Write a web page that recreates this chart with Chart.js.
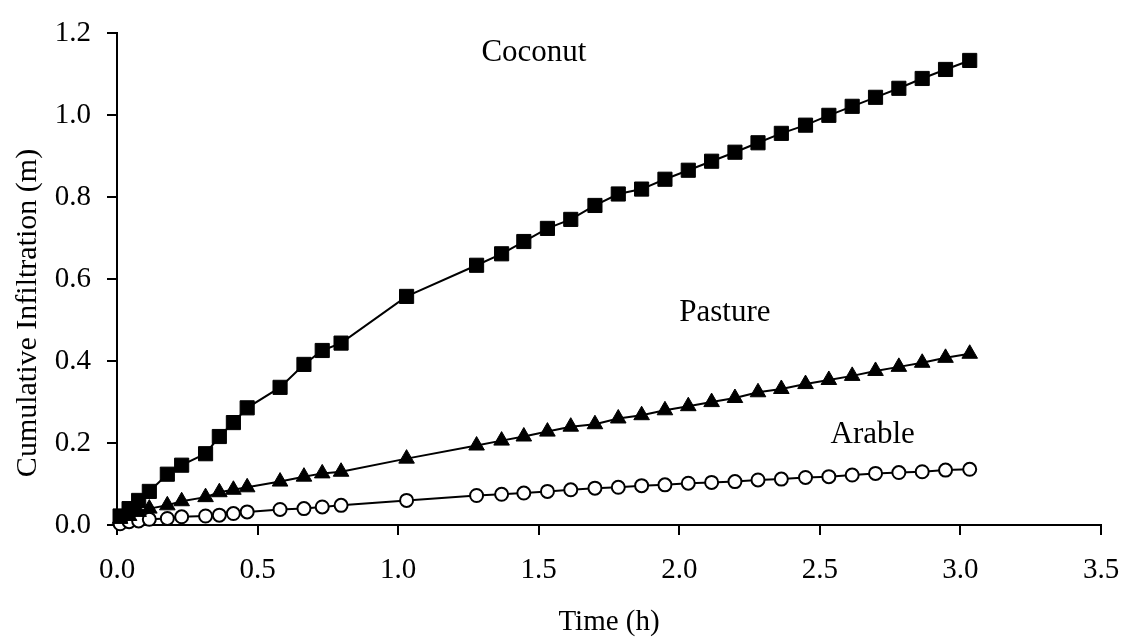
<!DOCTYPE html>
<html>
<head>
<meta charset="utf-8">
<script src="https://cdn.jsdelivr.net/npm/chart.js@4"></script>
<style>
  html, body { margin: 0; padding: 0; background: #fff; }
  #wrap { width: 1123px; height: 638px; }
</style>
</head>
<body>
<div id="wrap"><canvas id="chart"></canvas></div>
<script>
// time (h)
const times = [0.011, 0.043, 0.077, 0.115, 0.179, 0.230, 0.315, 0.364, 0.414, 0.463,
    0.580, 0.665, 0.730, 0.797, 1.030, 1.279, 1.368, 1.447, 1.531, 1.614, 1.700, 1.783,
    1.866, 1.949, 2.032, 2.115, 2.198, 2.280, 2.363, 2.449, 2.532, 2.615, 2.698, 2.781,
    2.864, 2.947, 3.033];

// cumulative infiltration (m)
const coconut = [0.022, 0.040, 0.060, 0.082, 0.124, 0.146, 0.174, 0.216, 0.250, 0.286,
    0.336, 0.392, 0.426, 0.444, 0.558, 0.634, 0.662, 0.692, 0.724, 0.746, 0.780, 0.808,
    0.820, 0.844, 0.866, 0.888, 0.910, 0.933, 0.956, 0.976, 1.000, 1.022, 1.044, 1.066,
    1.090, 1.112, 1.134];
const pasture = [0.015, 0.022, 0.032, 0.040, 0.048, 0.058, 0.068, 0.080, 0.086, 0.092,
    0.106, 0.118, 0.126, 0.130, 0.162, 0.194, 0.206, 0.216, 0.228, 0.240, 0.246, 0.260,
    0.268, 0.280, 0.290, 0.300, 0.310, 0.324, 0.332, 0.344, 0.354, 0.364, 0.376, 0.386,
    0.396, 0.408, 0.418];
const arable = [0.003, 0.008, 0.010, 0.014, 0.016, 0.020, 0.022, 0.024, 0.028, 0.032,
    0.038, 0.040, 0.044, 0.048, 0.060, 0.072, 0.075, 0.078, 0.082, 0.086, 0.090, 0.092,
    0.096, 0.098, 0.102, 0.104, 0.106, 0.110, 0.112, 0.116, 0.118, 0.122, 0.126, 0.128,
    0.130, 0.134, 0.136];

// series name labels, placed in data units
const labelNames = ["Coconut", "Pasture", "Arable"];
const labelX = [1.483, 2.162, 2.688];
const labelY = [1.132, 0.497, 0.200];

const xTicks = [0, 0.5, 1.0, 1.5, 2.0, 2.5, 3.0, 3.5];
const yTicks = [0, 0.2, 0.4, 0.6, 0.8, 1.0, 1.2];
const yTitle = "Cumulative Infiltration (m)";

const FONT = "'Liberation Serif', 'Times New Roman', serif";

const toPoints = (vals) => times.map((t, i) => ({ x: t, y: vals[i] }));

// series names inside the plot + the y axis title (sits lower than the axis centre)
const textLayer = {
    id: "textLayer",
    afterDatasetsDraw(chart) {
        const { ctx, scales } = chart;
        ctx.save();
        ctx.fillStyle = "#000";
        ctx.font = "31px " + FONT;
        ctx.textAlign = "center";
        ctx.textBaseline = "alphabetic";
        labelNames.forEach((name, i) => {
            ctx.fillText(name, scales.x.getPixelForValue(labelX[i]), scales.y.getPixelForValue(labelY[i]));
        });
        ctx.translate(36, 313);
        ctx.rotate(-Math.PI / 2);
        ctx.font = "30px " + FONT;
        ctx.fillText(yTitle, 0, 0);
        ctx.restore();
    }
};

const ctx = document.getElementById("chart");
new Chart(ctx, {
    type: "scatter",
    data: {
        datasets: [
            {
                label: "Coconut",
                data: toPoints(coconut),
                showLine: true,
                borderColor: "#000",
                borderWidth: 2,
                pointStyle: "rect",
                pointRadius: 10,
                pointBackgroundColor: "#000",
                pointBorderColor: "#000",
                pointBorderWidth: 1,
                clip: false,
                order: 1
            },
            {
                label: "Pasture",
                data: toPoints(pasture),
                showLine: true,
                borderColor: "#000",
                borderWidth: 2,
                pointStyle: "triangle",
                pointRadius: 9,
                pointBackgroundColor: "#000",
                pointBorderColor: "#000",
                pointBorderWidth: 1,
                clip: false,
                order: 2
            },
            {
                label: "Arable",
                data: toPoints(arable),
                showLine: true,
                borderColor: "#000",
                borderWidth: 2,
                pointStyle: "circle",
                pointRadius: 6.5,
                pointBackgroundColor: "#fff",
                pointBorderColor: "#000",
                pointBorderWidth: 2,
                clip: false,
                order: 3
            }
        ]
    },
    options: {
        responsive: true,
        maintainAspectRatio: false,
        animation: false,
        layout: { padding: { top: 25, right: 0, left: 0, bottom: 0 } },
        plugins: {
            legend: { display: false },
            tooltip: { enabled: false }
        },
        scales: {
            x: {
                type: "linear",
                min: 0,
                max: 3.5,
                afterFit: (scale) => {
                    scale.height = 113;
                    scale.paddingRight = 22;
                    scale.paddingLeft = 0;
                },
                afterBuildTicks: (scale) => { scale.ticks = xTicks.map(v => ({ value: v })); },
                border: { color: "#000", width: 2 },
                grid: { drawOnChartArea: false, tickLength: 10, color: "#000", lineWidth: 2 },
                ticks: {
                    color: "#000",
                    padding: 18,
                    font: { family: FONT, size: 29 },
                    callback: (v) => Number(v).toFixed(1)
                },
                title: {
                    display: true,
                    text: "Time (h)",
                    color: "#000",
                    font: { family: FONT, size: 29, lineHeight: 1 },
                    padding: { top: 0, bottom: 1 }
                }
            },
            y: {
                type: "linear",
                min: 0,
                max: 1.2,
                afterFit: (scale) => { scale.width = 117; },
                afterBuildTicks: (scale) => { scale.ticks = yTicks.map(v => ({ value: v })); },
                border: { color: "#000", width: 2 },
                grid: { drawOnChartArea: false, tickLength: 10, color: "#000", lineWidth: 2 },
                ticks: {
                    color: "#000",
                    padding: 16,
                    font: { family: FONT, size: 29 },
                    callback: (v) => Number(v).toFixed(1)
                }
            }
        }
    },
    plugins: [textLayer]
});
</script>
</body>
</html>
